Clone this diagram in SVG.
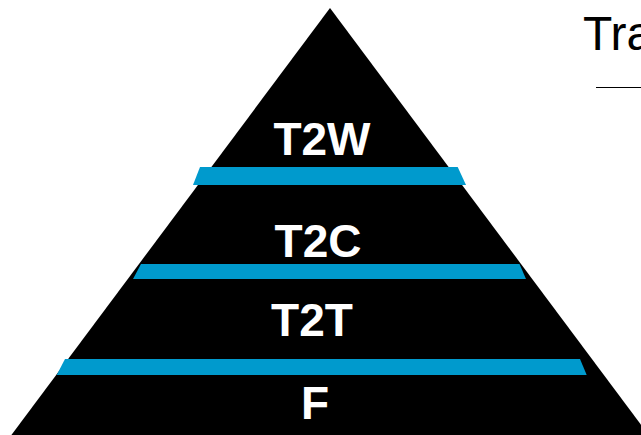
<svg xmlns="http://www.w3.org/2000/svg" width="641" height="435" viewBox="0 0 641 435">
<style>
.lbl{font-family:"Liberation Sans",Arial,sans-serif;font-weight:bold;font-size:46px;fill:#fff;text-anchor:middle}
.band{fill:#009ACD}
.title{font-family:"Liberation Sans",Arial,sans-serif;font-size:48px;fill:#000}
</style>
<rect width="641" height="435" fill="#fff"/>
<g id="pyramid">
<polygon points="330,8 648.6,435 11.4,435" fill="#000"/>
</g>
<g id="bands">
<polygon class="band" points="200,167 457.7,167 466,185 193,185"/>
<polygon class="band" points="141,264 519.5,264 526,279 133,279"/>
<polygon class="band" points="65,359 580,359 586.7,375 56.7,375"/>
</g>
<g id="node-t2w"><text class="lbl" x="322" y="155">T2W</text></g>
<g id="node-t2c"><text class="lbl" x="318" y="257">T2C</text></g>
<g id="node-t2t"><text class="lbl" x="312" y="336">T2T</text></g>
<g id="node-f"><text class="lbl" x="315" y="419">F</text></g>
<g id="title">
<text class="title" x="583" y="50">Tra</text>
<line x1="596" y1="87.5" x2="641" y2="87.5" stroke="#000" stroke-width="1"/>
</g>
</svg>
